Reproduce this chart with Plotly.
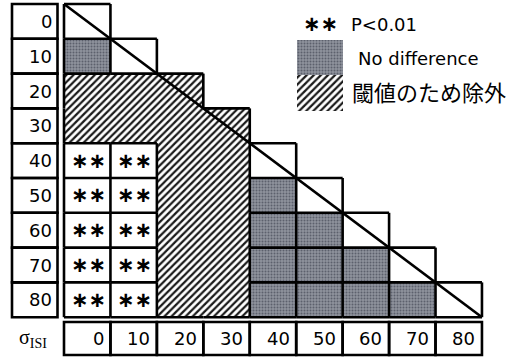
import plotly.graph_objects as go

# ---------------- data ----------------
sigma_levels = [0, 10, 20, 30, 40, 50, 60, 70, 80]
# result code for each (row sigma, column sigma) in the lower triangle
# S: P<0.01, N: no difference, X: excluded (threshold), D: same condition (diagonal)
results = [
    ["D"],
    ["N", "D"],
    ["X", "X", "X"],
    ["X", "X", "X", "X"],
    ["S", "S", "X", "X", "D"],
    ["S", "S", "X", "X", "N", "D"],
    ["S", "S", "X", "X", "N", "N", "D"],
    ["S", "S", "X", "X", "N", "N", "N", "D"],
    ["S", "S", "X", "X", "N", "N", "N", "N", "D"],
]
sig_mark = "∗∗"
legend_sig = "P<0.01"
legend_nd = "No difference"
legend_ex = "閾値のため除外"
axis_title = "σ<sub>ISI</sub>"

# ---------------- layout helpers ----------------
W, H = 514, 358
CW, RH = 46.44, 34.8      # cell size in px
X0, Y0 = 64, 4            # top-left of grid in px


def px2x(p):
    return (p - X0) / CW


def px2y(p):
    return (p - Y0) / RH


n = len(sigma_levels)
GRAY = "#8f939d"
LINE_W = 2.6
FONT = "DejaVu Sans"

cells = {}
for r, row in enumerate(results):
    for c, code in enumerate(row):
        cells[(r, c)] = code


def poly(rects):
    xs, ys = [], []
    for (x0, y0, x1, y1) in rects:
        xs += [x0, x1, x1, x0, x0, None]
        ys += [y0, y0, y1, y1, y0, None]
    return xs, ys


fig = go.Figure()

gray_pattern = dict(shape=".", bgcolor=GRAY, fgcolor="#5c606c", size=3, solidity=0.35,
                    fillmode="replace")
hatch_pattern = dict(shape="/", bgcolor="white", fgcolor="#1a1a1a", size=5, solidity=0.45,
                     fillmode="replace")

# cell fills
for code, patt in (("N", gray_pattern), ("X", hatch_pattern)):
    rects = [(c, r, c + 1, r + 1) for (r, c), k in cells.items() if k == code]
    xs, ys = poly(rects)
    fig.add_trace(go.Scatter(x=xs, y=ys, mode="none", fill="toself",
                             fillcolor=patt["bgcolor"], fillpattern=patt,
                             hoverinfo="skip", showlegend=False))

# grid edges (no edges inside the excluded region)
segs = set()
for (r, c), code in cells.items():
    sides = [((c, r), (c + 1, r), (r - 1, c)),
             ((c, r + 1), (c + 1, r + 1), (r + 1, c)),
             ((c, r), (c, r + 1), (r, c - 1)),
             ((c + 1, r), (c + 1, r + 1), (r, c + 1))]
    for a, b, nb in sides:
        if nb in cells and code == "X" and cells[nb] == "X":
            continue
        segs.add((a, b))
ex, ey = [], []
for a, b in sorted(segs):
    ex += [a[0], b[0], None]
    ey += [a[1], b[1], None]
fig.add_trace(go.Scatter(x=ex, y=ey, mode="lines",
                         line=dict(color="black", width=LINE_W),
                         hoverinfo="skip", showlegend=False))

# diagonal
fig.add_trace(go.Scatter(x=[0, n], y=[0, n], mode="lines",
                         line=dict(color="black", width=LINE_W),
                         hoverinfo="skip", showlegend=False))

annotations = []
shapes = []

STAR_FONT = dict(family=FONT, size=21, color="black", weight="bold")

# significance marks
for (r, c), code in cells.items():
    if code == "S":
        annotations.append(dict(x=px2x(X0 + 5) + c, y=r + 0.5, text=sig_mark, showarrow=False,
                                xanchor="left", yanchor="middle", font=STAR_FONT))

# row labels
LB0, LB1 = px2x(12), px2x(57.5)
for r, s in enumerate(sigma_levels):
    shapes.append(dict(type="rect", xref="x", yref="y", x0=LB0, x1=LB1, y0=r, y1=r + 1,
                       line=dict(color="black", width=LINE_W)))
    annotations.append(dict(x=px2x(53.5), y=r + 0.5, text=str(s), showarrow=False,
                            xanchor="right", yanchor="middle",
                            font=dict(family=FONT, size=18, color="black")))

# column labels
BY0, BY1 = px2y(322), px2y(355)
for c, s in enumerate(sigma_levels):
    shapes.append(dict(type="rect", xref="x", yref="y", x0=c, x1=c + 1, y0=BY0, y1=BY1,
                       line=dict(color="black", width=LINE_W)))
    annotations.append(dict(x=c + 1 - 0.1, y=(BY0 + BY1) / 2, text=str(s), showarrow=False,
                            xanchor="right", yanchor="middle",
                            font=dict(family=FONT, size=18, color="black")))

annotations.append(dict(x=px2x(33), y=px2y(338), text=axis_title, showarrow=False,
                        xanchor="center", yanchor="middle",
                        font=dict(family="Liberation Serif", size=20, color="black")))

# legend
sw_x0, sw_x1 = px2x(297), px2x(343)
for (y0p, y1p), patt in (((40, 75), gray_pattern), ((75, 111), hatch_pattern)):
    xs, ys = poly([(sw_x0, px2y(y0p), sw_x1, px2y(y1p))])
    fig.add_trace(go.Scatter(x=xs, y=ys, mode="none", fill="toself",
                             fillcolor=patt["bgcolor"], fillpattern=patt,
                             hoverinfo="skip", showlegend=False))
annotations.append(dict(x=px2x(301), y=px2y(24), text=sig_mark, showarrow=False,
                        xanchor="left", yanchor="middle", font=STAR_FONT))
annotations.append(dict(x=px2x(349), y=px2y(24), text=legend_sig, showarrow=False,
                        xanchor="left", yanchor="middle",
                        font=dict(family=FONT, size=18, color="black")))
annotations.append(dict(x=px2x(356), y=px2y(58), text=legend_nd, showarrow=False,
                        xanchor="left", yanchor="middle",
                        font=dict(family=FONT, size=18, color="black")))
annotations.append(dict(x=px2x(350), y=px2y(91), text=legend_ex, showarrow=False,
                        xanchor="left", yanchor="middle",
                        font=dict(family="Noto Sans CJK JP", size=22, color="black")))

fig.update_layout(
    width=W, height=H,
    margin=dict(l=0, r=0, t=0, b=0),
    paper_bgcolor="white", plot_bgcolor="white",
    xaxis=dict(range=[px2x(0), px2x(W)], visible=False, fixedrange=True),
    yaxis=dict(range=[px2y(H), px2y(0)], visible=False, fixedrange=True),
    shapes=shapes, annotations=annotations,
    showlegend=False,
)

fig.write_html("out.html", config=dict(displayModeBar=False),
               post_script="document.body.style.margin='0';document.body.style.overflow='hidden';")
